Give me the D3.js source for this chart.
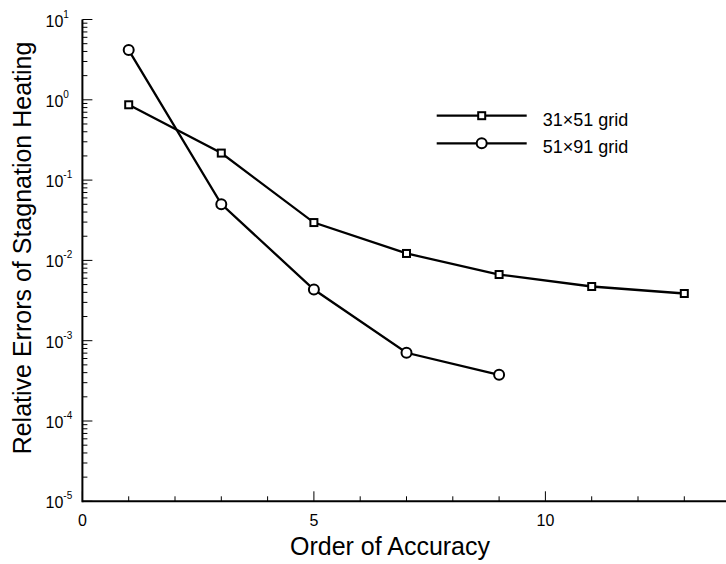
<!DOCTYPE html>
<html>
<head>
<meta charset="utf-8">
<script src="https://cdn.jsdelivr.net/npm/d3@7"></script>
<style>
  body { margin: 0; background: #fff; }
  text { font-family: "Liberation Sans", Arial, sans-serif; fill: #000; }
</style>
</head>
<body>
<script>

var orderA = [1, 3, 5, 7, 9, 11, 13];
var err31x51 = [0.867, 0.217, 0.0296, 0.0122, 0.00667, 0.00473, 0.00387];

var orderB = [1, 3, 5, 7, 9];
var err51x91 = [4.16, 0.0502, 0.00434, 0.000707, 0.000376];

var xTicks = [0, 5, 10];
var yPowers = [1, 0, -1, -2, -3, -4, -5];
var seriesNames = ["31\u00d751 grid", "51\u00d791 grid"];

var width = 726;
var height = 564;

var svg = d3.select("body")
            .append("svg")
            .attr("width", width)
            .attr("height", height);

var x = d3.scaleLinear().domain([0, 14]).range([82.4, 82.4 + 14 * 46.3]);
var y = d3.scaleLog().domain([1e-5, 10]).range([501.3, 19.5]);

// minor ticks
var xMinor = d3.range(1, 14).filter(function(d){ return d % 5 != 0; });
var yMinor = [];
yPowers.forEach(function(p){
  if (p == 1) return;
  for (var k = 2; k <= 9; k++) yMinor.push(k * Math.pow(10, p));
});

var g = svg.append("g");

g.selectAll(".xmaj").data(xTicks).enter().append("line")
  .attr("x1", function(d){ return x(d); })
  .attr("x2", function(d){ return x(d); })
  .attr("y1", y(1e-5)).attr("y2", y(1e-5) - 10)
  .style("stroke", "black").style("stroke-width", 1);

g.selectAll(".xmin").data(xMinor).enter().append("line")
  .attr("x1", function(d){ return x(d); })
  .attr("x2", function(d){ return x(d); })
  .attr("y1", y(1e-5)).attr("y2", y(1e-5) - 5)
  .style("stroke", "black").style("stroke-width", 1);

g.selectAll(".ymaj").data(yPowers).enter().append("line")
  .attr("x1", x(0)).attr("x2", x(0) + 10)
  .attr("y1", function(d){ return y(Math.pow(10, d)); })
  .attr("y2", function(d){ return y(Math.pow(10, d)); })
  .style("stroke", "black").style("stroke-width", 1);

g.selectAll(".ymin").data(yMinor).enter().append("line")
  .attr("x1", x(0)).attr("x2", x(0) + 5)
  .attr("y1", function(d){ return y(d); })
  .attr("y2", function(d){ return y(d); })
  .style("stroke", "black").style("stroke-width", 1);

// axis lines
g.append("line")
  .attr("x1", x(0)).attr("x2", x(14))
  .attr("y1", y(1e-5)).attr("y2", y(1e-5))
  .style("stroke", "black").style("stroke-width", 2);
g.append("line")
  .attr("x1", x(0)).attr("x2", x(0))
  .attr("y1", y(1e-5) + 1).attr("y2", y(10))
  .style("stroke", "black").style("stroke-width", 2);

// tick labels
g.selectAll(".xlab").data(xTicks).enter().append("text")
  .attr("x", function(d){ return x(d); })
  .attr("y", 526)
  .attr("text-anchor", "middle")
  .style("font-size", "16px")
  .text(function(d){ return d; });

var ylab = g.selectAll(".ylab").data(yPowers).enter().append("text")
  .attr("x", 45.5)
  .attr("y", function(d){ return y(Math.pow(10, d)) + 7; })
  .style("font-size", "16px");
ylab.append("tspan").text("10");
ylab.append("tspan")
  .attr("dy", -9)
  .style("font-size", "10px")
  .text(function(d){ return d; });

// axis titles
svg.append("text")
  .attr("x", 390).attr("y", 555)
  .attr("text-anchor", "middle")
  .style("font-size", "25px")
  .text("Order of Accuracy");

svg.append("text")
  .attr("transform", "translate(31," + 248 + ") rotate(-90)")
  .attr("text-anchor", "middle")
  .style("font-size", "25px")
  .text("Relative Errors of Stagnation Heating");

// series
var dataA = orderA.map(function(d, i){ return {x: d, y: err31x51[i]}; });
var dataB = orderB.map(function(d, i){ return {x: d, y: err51x91[i]}; });

var line = d3.line()
  .x(function(d){ return x(d.x); })
  .y(function(d){ return y(d.y); });

svg.append("path").datum(dataA).attr("d", line)
  .style("fill", "none").style("stroke", "black").style("stroke-width", 2.3);
svg.append("path").datum(dataB).attr("d", line)
  .style("fill", "none").style("stroke", "black").style("stroke-width", 2.3);

svg.selectAll(".sq").data(dataA).enter().append("rect")
  .attr("x", function(d){ return x(d.x) - 3.5; })
  .attr("y", function(d){ return y(d.y) - 3.5; })
  .attr("width", 7).attr("height", 7)
  .style("fill", "white").style("stroke", "black").style("stroke-width", 2);

svg.selectAll(".ci").data(dataB).enter().append("circle")
  .attr("cx", function(d){ return x(d.x); })
  .attr("cy", function(d){ return y(d.y); })
  .attr("r", 5)
  .style("fill", "white").style("stroke", "black").style("stroke-width", 2);

// legend
var legend = svg.append("g");
var legY = [115.7, 143.3];

legend.selectAll(".ll").data(legY).enter().append("line")
  .attr("x1", 436.7).attr("x2", 526.7)
  .attr("y1", function(d){ return d; })
  .attr("y2", function(d){ return d; })
  .style("stroke", "black").style("stroke-width", 2.3);

legend.append("rect")
  .attr("x", 481.7 - 3.5).attr("y", legY[0] - 3.5)
  .attr("width", 7).attr("height", 7)
  .style("fill", "white").style("stroke", "black").style("stroke-width", 2);
legend.append("circle")
  .attr("cx", 481.7).attr("cy", legY[1]).attr("r", 5)
  .style("fill", "white").style("stroke", "black").style("stroke-width", 2);

legend.selectAll(".lt").data(seriesNames).enter().append("text")
  .attr("x", 542.7)
  .attr("y", function(d, i){ return legY[i] + 10; })
  .style("font-size", "18px")
  .text(function(d){ return d; });

</script>
</body>
</html>
